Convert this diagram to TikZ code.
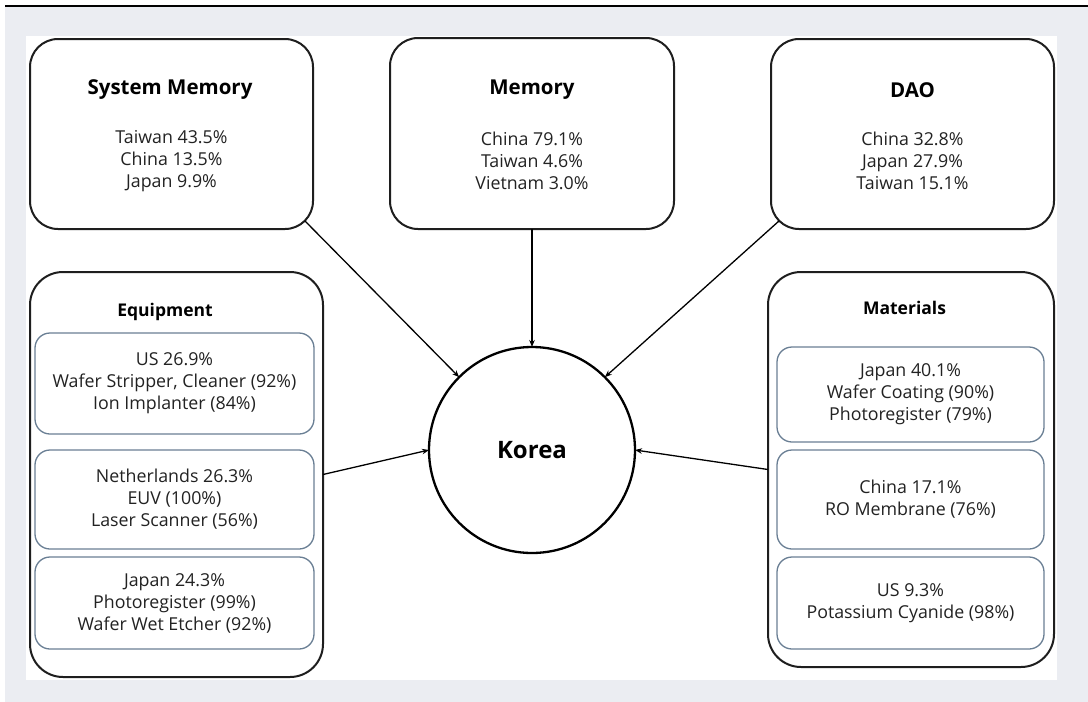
\documentclass[tikz,border=0pt]{standalone}
\usepackage{fontspec}
\setmainfont{Open Sans}
\usetikzlibrary{arrows.meta,calc}
\definecolor{bggray}{HTML}{EBEDF2}
\definecolor{innerc}{HTML}{6A7F94}
\definecolor{outerc}{HTML}{1E1E1E}
\definecolor{txt}{HTML}{222222}
\begin{document}
\begin{tikzpicture}[x=1pt,y=-1pt,
  every node/.style={inner sep=0pt, outer sep=0pt},
  topbox/.style={draw=outerc, line width=2pt, rounded corners=28pt, fill=white,
    minimum width=283pt, minimum height=190pt},
  sidebox/.style={draw=outerc, line width=2pt, rounded corners=33pt, fill=white},
  innerbox/.style={draw=innerc, line width=1.3pt, rounded corners=15pt, fill=white},
  ttl/.style={font=\fontsize{20.5pt}{24pt}\selectfont\bfseries, text=black},
  subttl/.style={font=\fontsize{17.5pt}{21pt}\selectfont\bfseries, text=black},
  body/.style={font=\fontsize{17.8pt}{22pt}\selectfont, text=txt, align=center},
  arr/.style={line width=1.3pt, draw=black, -{Stealth[length=7pt,width=5.5pt]}}
]
\useasboundingbox (0,0) rectangle (1088,702);
% background
\fill[white] (0,0) rectangle (1088,702);
\fill[bggray] (5,7) rectangle (1088,702);
\fill[white] (26,36) rectangle (1057,680);
\draw[line width=2.5pt, black] (5,6) -- (1088,6);

% top boxes
\node[topbox] (sm) at (171.5,134) {};
\node[ttl] (smT) at (170,90) {System Memory};
\node[body] (smB) at (171.5,161) {Taiwan 43.5\%\\China 13.5\%\\Japan 9.9\%};

\node[topbox, minimum width=284pt, minimum height=191pt] (mem) at (532,133.5) {};
\node[ttl] (memT) at (532,90) {Memory};
\node[body] (memB) at (532,161) {China 79.1\%\\Taiwan 4.6\%\\Vietnam 3.0\%};

\node[topbox] (dao) at (912.5,134) {};
\node[ttl] (daoT) at (912.5,90) {DAO};
\node[body] (daoB) at (912.5,161) {China 32.8\%\\Japan 27.9\%\\Taiwan 15.1\%};

% Korea
\node[draw=black, line width=2.3pt, circle, minimum size=206pt, fill=white,
  font=\fontsize{24pt}{28pt}\selectfont\bfseries] (korea) at (532,450) {Korea};

% Equipment
\node[sidebox, minimum width=293pt, minimum height=405pt] (eq) at (176.5,474.5) {};
\node[subttl] (eqT) at (165,312) {Equipment};
\node[innerbox, body, minimum width=279pt, minimum height=101pt] (eq1) at (174.5,383.5)
  {US 26.9\%\\Wafer Stripper, Cleaner (92\%)\\Ion Implanter (84\%)};
\node[innerbox, body, minimum width=279pt, minimum height=99pt] (eq2) at (174.5,499.5)
  {Netherlands 26.3\%\\EUV (100\%)\\Laser Scanner (56\%)};
\node[innerbox, body, minimum width=279pt, minimum height=92pt] (eq3) at (174.5,603)
  {Japan 24.3\%\\Photoregister (99\%)\\Wafer Wet Etcher (92\%)};

% Materials
\node[sidebox, minimum width=286pt, minimum height=395pt] (mat) at (911,469.5) {};
\node[subttl] (matT) at (904.5,308) {Materials};
\node[innerbox, body, minimum width=267pt, minimum height=95pt] (mat1) at (910.5,394.5)
  {Japan 40.1\%\\Wafer Coating (90\%)\\Photoregister (79\%)};
\node[innerbox, body, minimum width=267pt, minimum height=99pt] (mat2) at (910.5,499.5)
  {China 17.1\%\\RO Membrane (76\%)};
\node[innerbox, body, minimum width=267pt, minimum height=92pt] (mat3) at (910.5,603)
  {US 9.3\%\\Potassium Cyanide (98\%)};

% connectors
\draw[arr] ($(sm.south east)+(-8.2,-8.2)$) -- (korea.135);
\draw[arr] (mem.south) -- (korea.north);
\draw[arr] ($(dao.south west)+(8.2,-8.2)$) -- (korea.45);
\draw[arr] (eq.east) -- (korea.west);
\draw[arr] (mat.west) -- (korea.east);
\end{tikzpicture}
\end{document}
